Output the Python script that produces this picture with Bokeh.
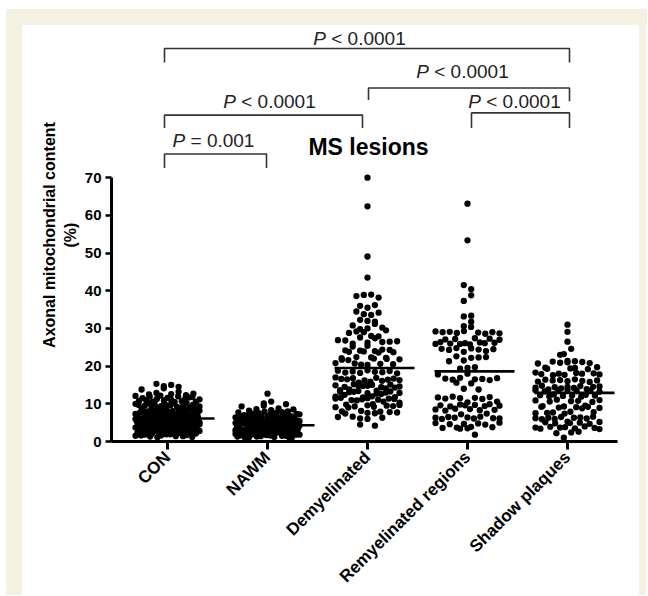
import math
import numpy as np
from bokeh.plotting import figure
from bokeh.models import Range1d, FixedTicker, Spacer
from bokeh.layouts import column, row
from bokeh.embed import file_html
from bokeh.resources import INLINE
from bokeh.core.properties import value

# ---------------- data ----------------
categories = ["CON", "NAWM", "Demyelinated", "Remyelinated regions", "Shadow plaques"]

con = [15.3, 15.0, 14.7, 14.5, 14.1, 13.8,
       13.2, 12.9, 12.7, 12.6, 12.5, 12.3, 12.2, 12.1, 12.0,
       11.9, 11.8, 11.6, 11.5, 11.4, 11.3, 11.2, 11.1, 11.0, 11.7,
       10.9, 10.8, 10.7, 10.6, 10.5, 10.4, 10.3, 10.2, 10.1, 10.0, 10.5,
       9.9, 9.8, 9.7, 9.6, 9.5, 9.4, 9.3, 9.2, 9.1, 9.0, 9.5, 9.7,
       8.9, 8.8, 8.7, 8.6, 8.5, 8.4, 8.3, 8.2, 8.1, 8.0, 8.6, 8.4, 8.8, 8.2,
       7.9, 7.8, 7.7, 7.6, 7.5, 7.4, 7.3, 7.2, 7.1, 7.0, 7.8, 7.6, 7.4, 7.2, 7.5, 7.3, 7.9, 7.1,
       6.9, 6.8, 6.7, 6.6, 6.5, 6.4, 6.3, 6.2, 6.1, 6.0, 6.9, 6.7, 6.5, 6.3, 6.1, 6.8, 6.6, 6.4,
       6.2, 6.0, 6.5, 6.3,
       5.9, 5.8, 5.7, 5.6, 5.5, 5.4, 5.3, 5.2, 5.1, 5.0, 5.9, 5.7, 5.5, 5.3, 5.1, 5.8, 5.6, 5.4,
       5.2, 5.0, 5.5, 5.3, 5.7, 5.1, 5.6, 5.4,
       4.9, 4.8, 4.7, 4.6, 4.5, 4.4, 4.3, 4.2, 4.1, 4.0, 4.9, 4.7, 4.5, 4.3, 4.1, 4.8, 4.6, 4.4,
       4.2, 4.0, 4.5, 4.3, 4.7, 4.1, 4.6, 4.4, 4.8, 4.2,
       3.9, 3.8, 3.7, 3.6, 3.5, 3.4, 3.3, 3.2, 3.1, 3.0, 3.9, 3.7, 3.5, 3.3, 3.1, 3.8, 3.6, 3.4,
       3.2, 3.0, 3.5, 3.3, 3.7, 3.1, 3.6, 3.4, 3.8, 3.2,
       2.9, 2.8, 2.7, 2.6, 2.5, 2.4, 2.3, 2.2, 2.1, 2.0, 2.9, 2.7, 2.5, 2.3, 2.1, 2.8, 2.6, 2.4,
       2.2, 2.0, 2.5, 2.3, 2.7, 2.1,
       1.9, 1.8, 1.7, 1.6, 1.5, 1.4, 1.3, 1.2, 1.9, 1.6, 1.4, 1.1]

nawm = [12.7, 10.6, 10.1, 9.9, 9.5, 9.3,
        8.8, 8.6, 8.5, 8.3, 8.2, 8.0,
        7.9, 7.7, 7.6, 7.4, 7.3, 7.1, 7.0, 7.8, 7.5, 7.2,
        6.9, 6.8, 6.7, 6.6, 6.5, 6.4, 6.3, 6.2, 6.1, 6.0, 6.8, 6.6, 6.4, 6.2, 6.5, 6.3,
        5.9, 5.8, 5.7, 5.6, 5.5, 5.4, 5.3, 5.2, 5.1, 5.0, 5.9, 5.7, 5.5, 5.3, 5.1, 5.8, 5.6, 5.4,
        5.2, 5.0,
        4.9, 4.8, 4.7, 4.6, 4.5, 4.4, 4.3, 4.2, 4.1, 4.0, 4.9, 4.7, 4.5, 4.3, 4.1, 4.8, 4.6, 4.4,
        4.2, 4.0, 4.5, 4.3,
        3.9, 3.8, 3.7, 3.6, 3.5, 3.4, 3.3, 3.2, 3.1, 3.0, 3.9, 3.7, 3.5, 3.3, 3.1, 3.8, 3.6, 3.4,
        3.2, 3.0, 3.5, 3.3, 3.7, 3.1,
        2.9, 2.8, 2.7, 2.6, 2.5, 2.4, 2.3, 2.2, 2.1, 2.0, 2.9, 2.7, 2.5, 2.3, 2.1, 2.8, 2.6, 2.4,
        2.2, 2.0, 2.5, 2.3, 2.7, 2.1, 2.6, 2.4,
        1.9, 1.8, 1.7, 1.6, 1.5, 1.4, 1.3, 1.2, 1.1, 1.0, 1.9, 1.7, 1.5, 1.3, 1.8, 1.6, 0.9, 0.8]

demyelinated = [70.0, 62.4, 49.1, 43.5,
                39.0, 38.6, 38.2, 38.9,
                36.2, 35.5, 36.0,
                34.2, 33.8, 34.5, 33.6,
                32.3, 31.8, 31.2, 30.8, 32.0,
                30.0, 29.5, 29.0, 29.8, 30.2, 29.2, 28.8,
                28.0, 27.6, 27.9, 27.4,
                26.8, 26.5, 26.2, 26.9, 26.4, 26.0, 26.6,
                25.4, 25.2,
                24.0, 23.8, 24.3, 23.6, 24.1, 24.4, 23.9, 24.2, 23.7,
                22.1, 21.9, 22.3, 21.7, 22.0, 22.4, 21.8, 22.2, 21.6,
                20.6, 20.4, 20.8, 20.3, 20.7, 20.5,
                18.5, 18.3, 18.7, 18.2, 18.8, 18.4, 18.6, 18.1, 18.9,
                16.6, 16.4, 16.8, 16.3, 16.9, 16.5, 16.7, 16.2, 17.0, 16.1,
                14.8, 14.6, 15.0, 14.5, 15.1, 14.7, 14.9, 14.4, 15.2, 14.3, 14.8,
                13.2, 13.0, 13.4, 12.9, 13.5, 13.1, 13.3, 12.8, 13.6, 12.7, 13.2,
                11.4, 11.2, 11.6, 11.1, 11.7, 11.3, 11.5, 11.0, 11.8, 10.9, 11.4,
                9.5, 9.3, 9.7, 9.2, 9.8, 9.4, 9.6, 9.1, 9.9, 9.0,
                7.8, 7.6, 8.0, 7.5, 8.1, 7.7, 7.9, 7.4,
                6.3, 6.1, 6.5, 6.0, 6.6,
                4.2, 4.5,
                12.4, 14.1, 15.6, 10.3, 12.0, 13.8, 10.6, 15.9, 11.9, 12.6]

remyelinated = [63.1, 53.4, 41.5, 40.4, 38.8, 37.3, 33.4, 33.2, 31.8, 30.4, 30.6,
                29.0, 28.8, 29.2, 28.9, 29.1, 28.7, 29.3, 29.0, 28.6,
                27.2, 27.0, 27.4, 27.1, 27.3,
                26.1, 25.9, 26.3, 26.0, 26.2, 25.8, 26.4, 26.1, 25.9,
                24.6, 24.4, 24.8, 24.5, 24.7, 24.3,
                24.0, 23.8,
                22.4, 22.2, 22.6, 22.3,
                21.5, 21.3,
                19.5, 19.3, 19.7,
                18.0, 17.8,
                16.6, 16.4, 16.8, 16.5, 16.7, 16.3, 16.9,
                15.6, 15.4,
                14.0, 13.8,
                11.6, 11.4, 11.8, 11.5, 11.7, 11.3, 11.9,
                10.6, 10.4,
                9.6, 9.4, 9.8, 9.5, 9.7, 9.3, 9.9, 9.6,
                8.5, 8.3, 8.7, 8.4, 8.6, 8.2,
                7.4, 7.2,
                6.3, 6.1, 6.5, 6.2, 6.4, 6.0, 6.6, 6.3, 6.1,
                4.8, 4.6, 5.0, 4.7, 4.9, 4.5,
                3.7, 3.5, 3.9, 3.6, 3.8, 3.4,
                1.8]

shadow = [31.0, 29.1, 26.5, 24.6, 23.2, 23.0,
          21.1, 20.9, 21.3, 21.0, 21.2, 20.8, 21.4, 20.7,
          19.5, 19.3, 19.7, 19.4, 19.6, 19.2,
          18.0, 17.8, 18.2, 17.9, 18.1, 17.7, 18.3, 18.0, 17.6,
          16.2, 16.0, 16.4, 16.1, 16.3, 15.9, 16.5, 16.2, 15.8,
          14.5, 14.3, 14.7, 14.4, 14.6, 14.2, 14.8, 14.5, 14.1,
          13.6, 13.4, 13.8, 13.5, 13.7, 13.3, 13.9, 13.6, 13.2,
          12.2, 12.0, 12.4, 12.1, 12.3, 11.9, 12.5, 12.2,
          10.8, 10.6, 11.0, 10.7, 10.9, 10.5, 11.1,
          9.2, 9.0, 9.4, 9.1, 9.3, 8.9, 9.5, 9.2, 8.8,
          7.7, 7.5, 7.9, 7.6, 7.8, 7.4,
          6.3, 6.1, 6.5, 6.2, 6.4, 6.0, 6.6, 6.3, 5.9,
          5.0, 4.8, 5.2, 4.9, 5.1, 4.7, 5.3,
          3.7, 3.5, 3.9, 3.6, 3.8, 3.4, 4.0, 3.7, 3.3,
          2.4, 2.2, 2.6,
          1.0]

means = [6.1, 4.3, 19.5, 18.6, 12.9]
y_ticks = [0, 10, 20, 30, 40, 50, 60, 70]

# significance comparisons: (group a, group b, relation text, italic letter)
comparisons = [(0, 4, "< 0.0001", "P"),
               (2, 4, "< 0.0001", "P"),
               (0, 2, "< 0.0001", "P"),
               (3, 4, "< 0.0001", "P"),
               (0, 1, "= 0.001", "P")]

# ---------------- layout helpers ----------------
PX_X = 100.0            # px per category unit
ROW_H = 1.8             # value span of one dot row
STEP = 7.4              # px between dots in a row
CAP = 32.0              # max half width of a row, px
GOLD = 0.6180339887


def row_layout(vals, center):
    vals = np.asarray(vals, dtype=float)
    order = np.argsort(vals, kind="stable")
    rows, cur, start = [], [], None
    for idx in order:
        v = vals[idx]
        if cur and v - start >= ROW_H:
            rows.append(cur)
            cur = []
        if not cur:
            start = v
        cur.append(idx)
    if cur:
        rows.append(cur)
    xs = np.zeros(len(vals))
    for r in rows:
        n = len(r)
        s = STEP if (n - 1) * STEP <= 2 * CAP else 2 * CAP / (n - 1)
        # spread the slot order so value and horizontal slot are not correlated
        slots = sorted(r, key=lambda j: (j * GOLD) % 1.0)
        for k, idx in enumerate(slots):
            xs[idx] = (k - (n - 1) / 2) * s
    return center + xs / PX_X, vals


# ---------------- figure ----------------
p = figure(width=617, height=570, output_backend="svg", toolbar_location=None,
           x_range=Range1d(-0.56, 4.5), y_range=Range1d(0, 109.6),
           min_border_left=89, min_border_right=22, min_border_top=3, min_border_bottom=152,
           background_fill_color="white", border_fill_color="white")
p.outline_line_color = None
p.grid.visible = False

groups = [con, nawm, demyelinated, remyelinated, shadow]
for i, g in enumerate(groups):
    xs, ys = row_layout(g, i)
    p.scatter(x=xs, y=ys, size=6.3, color="black", line_color=None)

# mean lines
p.segment(x0=[i - 0.33 for i in range(5)], x1=[i + 0.47 for i in range(5)],
          y0=means, y1=means, line_color="black", line_width=2.6)

# brackets (layout: y of top line, drop ends, label y, x nudges, label centre)
bracket_layout = [
    (104.3, 100.6, 100.6, 107.0, -0.03, 0.02, 1.92),
    (93.8, 90.6, 90.3, 98.3, 0.01, 0.02, 2.95),
    (86.6, 83.2, 83.2, 90.1, -0.03, -0.05, 1.02),
    (87.2, 83.2, 83.2, 90.3, 0.04, 0.02, 3.47),
    (76.3, 72.6, 72.6, 79.8, -0.03, -0.01, 0.46),
]
FS = 19
for (a, b, rest, pl), (yt, yl, yr, ylab, da, db, xc) in zip(comparisons, bracket_layout):
    xa, xb = a + da, b + db
    p.line(x=[xa, xa, xb, xb], y=[yl, yt, yt, yr], line_color="#333333", line_width=1.6)
    w_p = 0.667 * FS
    w_sp = 0.278 * FS
    w_rest = (0.584 + 0.278 + (len(rest) - 2) * 0.556 - 0.278) * FS
    total = w_p + w_sp + w_rest
    p.text(x=[xc], y=[ylab], text=[pl], text_font=value("Liberation Sans"),
           text_font_style="italic", text_font_size=f"{FS}px", text_color="#222222",
           text_align="left", text_baseline="middle", x_offset=-total / 2)
    p.text(x=[xc], y=[ylab], text=[rest], text_font=value("Liberation Sans"),
           text_font_size=f"{FS}px", text_color="#222222",
           text_align="left", text_baseline="middle", x_offset=-total / 2 + w_p + w_sp)

p.text(x=[2.01], y=[78.2], text=["MS lesions"], text_font=value("Liberation Sans"),
       text_font_style="bold", text_font_size="23px", text_color="black",
       text_align="center", text_baseline="middle")

# axes
yax = p.yaxis[0]
yax.ticker = FixedTicker(ticks=y_ticks)
yax.bounds = (0, 70)
yax.axis_line_width = 3
yax.major_tick_line_width = 2.5
yax.major_tick_out = 6
yax.major_tick_in = 0
yax.minor_tick_line_color = None
yax.major_label_text_font = "Liberation Sans"
yax.major_label_text_font_style = "bold"
yax.major_label_text_font_size = "15px"
yax.major_label_text_color = "black"
yax.major_label_standoff = 4
yax.axis_label = "Axonal mitochondrial content\n(%)"
yax.axis_label_text_font = "Liberation Sans"
yax.axis_label_text_font_style = "bold"
yax.axis_label_text_font_size = "16px"
yax.axis_label_text_color = "black"
yax.axis_label_standoff = 3

xax = p.xaxis[0]
xax.ticker = FixedTicker(ticks=list(range(len(categories))))
xax.major_label_overrides = {i: c for i, c in enumerate(categories)}
xax.major_label_orientation = math.pi / 4
xax.axis_line_width = 3
xax.major_tick_line_width = 3
xax.major_tick_out = 8
xax.major_tick_in = 0
xax.minor_tick_line_color = None
xax.major_label_text_font = "Liberation Sans"
xax.major_label_text_font_style = "bold"
xax.major_label_text_font_size = "17px"
xax.major_label_text_color = "black"
xax.major_label_standoff = 5

bg = "#f4f0e2"
panel = column(
    Spacer(width=641, height=16, styles={"background-color": bg}),
    row(Spacer(width=16, height=570, styles={"background-color": bg}),
        p,
        Spacer(width=7, height=570, styles={"background-color": bg})),
)
layout = column(Spacer(width=647, height=9), row(Spacer(width=6, height=586), panel))

open("out.html", "w").write(file_html(layout, INLINE))
